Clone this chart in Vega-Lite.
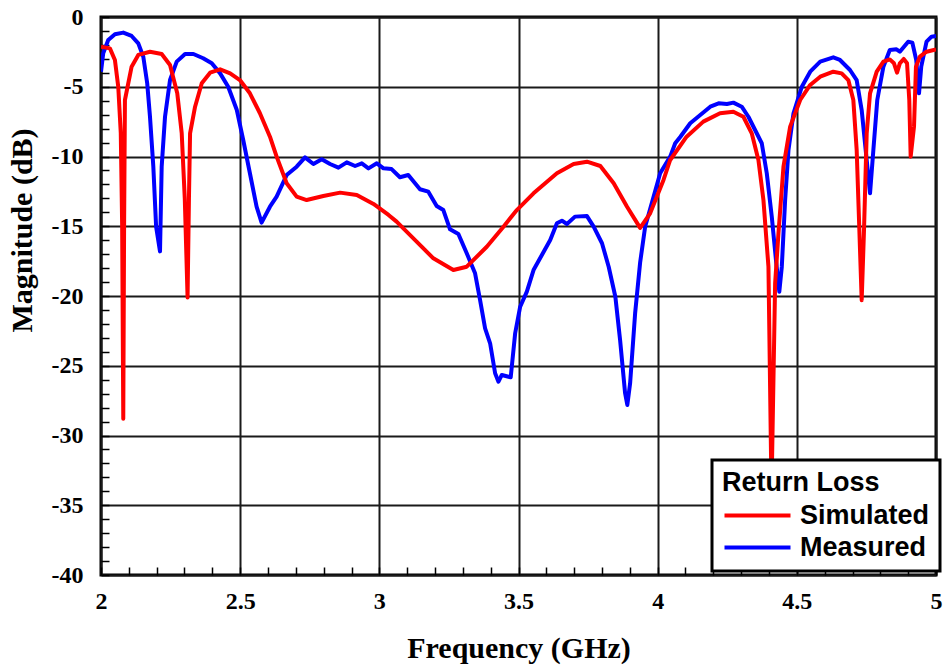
{
  "$schema": "https://vega.github.io/schema/vega-lite/v6.json",
  "width": 835,
  "height": 558,
  "autosize": {"type": "none"},
  "padding": {"left": 101, "top": 17, "right": 9, "bottom": 91},
  "background": "white",
  "config": {
    "view": {"stroke": "black", "strokeWidth": 3},
    "axis": {
      "domain": false,
      "labelFont": "Liberation Serif",
      "labelFontWeight": "bold",
      "labelFontSize": 24,
      "labelColor": "black",
      "titleFont": "Liberation Serif",
      "titleFontWeight": "bold",
      "titleFontSize": 30,
      "titleColor": "black",
      "tickColor": "black",
      "tickWidth": 1.5,
      "tickSize": -8,
      "gridWidth": 2,
      "labelOverlap": false,
      "labelFlush": false
    },
    "legend": {
      "orient": "none",
      "legendX": 611,
      "legendY": 443,
      "fillColor": "white",
      "strokeColor": "black",
      "strokeWidth": 3,
      "cornerRadius": 0,
      "padding": 10,
      "titleFont": "Liberation Sans",
      "titleFontWeight": "bold",
      "titleFontSize": 27,
      "titleColor": "black",
      "titlePadding": 5,
      "labelFont": "Liberation Sans",
      "labelFontWeight": "bold",
      "labelFontSize": 27,
      "labelColor": "black",
      "labelOffset": 51,
      "symbolType": "M-1,0H5",
      "symbolSize": 484,
      "symbolStrokeWidth": 4,
      "rowPadding": 4
    }
  },
  "data": {"values": [
    {"s":"Measured","f":2.000,"m":-3.92},{"s":"Measured","f":2.008,"m":-2.6},{"s":"Measured","f":2.026,"m":-1.65},{"s":"Measured","f":2.050,"m":-1.24},{"s":"Measured","f":2.080,"m":-1.12},{"s":"Measured","f":2.110,"m":-1.36},{"s":"Measured","f":2.134,"m":-1.89},{"s":"Measured","f":2.152,"m":-2.85},{"s":"Measured","f":2.166,"m":-4.75},{"s":"Measured","f":2.176,"m":-7.15},{"s":"Measured","f":2.188,"m":-10.73},{"s":"Measured","f":2.198,"m":-15.03},{"s":"Measured","f":2.212,"m":-16.8},{"s":"Measured","f":2.218,"m":-10.73},{"s":"Measured","f":2.230,"m":-7.15},{"s":"Measured","f":2.248,"m":-4.52},{"s":"Measured","f":2.272,"m":-3.2},{"s":"Measured","f":2.302,"m":-2.65},{"s":"Measured","f":2.332,"m":-2.65},{"s":"Measured","f":2.367,"m":-2.96},{"s":"Measured","f":2.398,"m":-3.32},{"s":"Measured","f":2.428,"m":-4.04},{"s":"Measured","f":2.457,"m":-5.0},{"s":"Measured","f":2.488,"m":-6.67},{"s":"Measured","f":2.511,"m":-8.82},{"s":"Measured","f":2.535,"m":-11.2},{"s":"Measured","f":2.559,"m":-13.6},{"s":"Measured","f":2.577,"m":-14.74},{"s":"Measured","f":2.607,"m":-13.6},{"s":"Measured","f":2.631,"m":-12.88},{"s":"Measured","f":2.667,"m":-11.33},{"s":"Measured","f":2.703,"m":-10.73},{"s":"Measured","f":2.733,"m":-10.06},{"s":"Measured","f":2.763,"m":-10.54},{"s":"Measured","f":2.793,"m":-10.2},{"s":"Measured","f":2.823,"m":-10.54},{"s":"Measured","f":2.853,"m":-10.8},{"s":"Measured","f":2.883,"m":-10.42},{"s":"Measured","f":2.913,"m":-10.68},{"s":"Measured","f":2.937,"m":-10.49},{"s":"Measured","f":2.961,"m":-10.85},{"s":"Measured","f":2.991,"m":-10.49},{"s":"Measured","f":3.015,"m":-10.85},{"s":"Measured","f":3.044,"m":-10.9},{"s":"Measured","f":3.074,"m":-11.49},{"s":"Measured","f":3.104,"m":-11.33},{"s":"Measured","f":3.146,"m":-12.35},{"s":"Measured","f":3.176,"m":-12.52},{"s":"Measured","f":3.206,"m":-13.55},{"s":"Measured","f":3.230,"m":-13.84},{"s":"Measured","f":3.254,"m":-15.22},{"s":"Measured","f":3.284,"m":-15.56},{"s":"Measured","f":3.314,"m":-16.94},{"s":"Measured","f":3.344,"m":-18.37},{"s":"Measured","f":3.362,"m":-20.29},{"s":"Measured","f":3.380,"m":-22.32},{"s":"Measured","f":3.398,"m":-23.39},{"s":"Measured","f":3.416,"m":-25.54},{"s":"Measured","f":3.428,"m":-26.14},{"s":"Measured","f":3.440,"m":-25.66},{"s":"Measured","f":3.472,"m":-25.83},{"s":"Measured","f":3.488,"m":-22.67},{"s":"Measured","f":3.506,"m":-20.77},{"s":"Measured","f":3.530,"m":-19.69},{"s":"Measured","f":3.554,"m":-18.14},{"s":"Measured","f":3.584,"m":-17.06},{"s":"Measured","f":3.614,"m":-15.99},{"s":"Measured","f":3.638,"m":-14.79},{"s":"Measured","f":3.656,"m":-14.6},{"s":"Measured","f":3.674,"m":-14.84},{"s":"Measured","f":3.703,"m":-14.31},{"s":"Measured","f":3.746,"m":-14.27},{"s":"Measured","f":3.770,"m":-15.03},{"s":"Measured","f":3.800,"m":-16.22},{"s":"Measured","f":3.824,"m":-17.9},{"s":"Measured","f":3.848,"m":-20.05},{"s":"Measured","f":3.865,"m":-23.15},{"s":"Measured","f":3.883,"m":-26.97},{"s":"Measured","f":3.891,"m":-27.81},{"s":"Measured","f":3.901,"m":-26.26},{"s":"Measured","f":3.919,"m":-21.24},{"s":"Measured","f":3.937,"m":-17.6},{"s":"Measured","f":3.955,"m":-15.03},{"s":"Measured","f":3.985,"m":-12.9},{"s":"Measured","f":4.009,"m":-11.2},{"s":"Measured","f":4.045,"m":-10.01},{"s":"Measured","f":4.063,"m":-9.05},{"s":"Measured","f":4.081,"m":-8.6},{"s":"Measured","f":4.117,"m":-7.62},{"s":"Measured","f":4.153,"m":-7.03},{"s":"Measured","f":4.189,"m":-6.43},{"s":"Measured","f":4.219,"m":-6.19},{"s":"Measured","f":4.249,"m":-6.24},{"s":"Measured","f":4.272,"m":-6.14},{"s":"Measured","f":4.302,"m":-6.43},{"s":"Measured","f":4.326,"m":-7.15},{"s":"Measured","f":4.350,"m":-8.1},{"s":"Measured","f":4.374,"m":-9.05},{"s":"Measured","f":4.392,"m":-11.2},{"s":"Measured","f":4.410,"m":-14.32},{"s":"Measured","f":4.425,"m":-17.42},{"s":"Measured","f":4.437,"m":-19.69},{"s":"Measured","f":4.446,"m":-17.9},{"s":"Measured","f":4.458,"m":-13.12},{"s":"Measured","f":4.470,"m":-9.53},{"s":"Measured","f":4.488,"m":-6.9},{"s":"Measured","f":4.518,"m":-5.0},{"s":"Measured","f":4.548,"m":-3.92},{"s":"Measured","f":4.584,"m":-3.2},{"s":"Measured","f":4.631,"m":-2.89},{"s":"Measured","f":4.655,"m":-3.08},{"s":"Measured","f":4.691,"m":-3.8},{"s":"Measured","f":4.715,"m":-4.52},{"s":"Measured","f":4.733,"m":-6.67},{"s":"Measured","f":4.751,"m":-10.25},{"s":"Measured","f":4.763,"m":-12.64},{"s":"Measured","f":4.775,"m":-9.53},{"s":"Measured","f":4.789,"m":-5.95},{"s":"Measured","f":4.811,"m":-3.56},{"s":"Measured","f":4.834,"m":-2.37},{"s":"Measured","f":4.858,"m":-2.32},{"s":"Measured","f":4.870,"m":-2.49},{"s":"Measured","f":4.900,"m":-1.77},{"s":"Measured","f":4.915,"m":-1.84},{"s":"Measured","f":4.929,"m":-3.08},{"s":"Measured","f":4.939,"m":-5.47},{"s":"Measured","f":4.947,"m":-3.56},{"s":"Measured","f":4.966,"m":-1.77},{"s":"Measured","f":4.984,"m":-1.41},{"s":"Measured","f":5.000,"m":-1.36},
    {"s":"Simulated","f":2.000,"m":-2.13},{"s":"Simulated","f":2.032,"m":-2.25},{"s":"Simulated","f":2.050,"m":-3.08},{"s":"Simulated","f":2.062,"m":-5.0},{"s":"Simulated","f":2.071,"m":-8.3},{"s":"Simulated","f":2.076,"m":-15},{"s":"Simulated","f":2.080,"m":-28.8},{"s":"Simulated","f":2.083,"m":-15},{"s":"Simulated","f":2.086,"m":-5.95},{"s":"Simulated","f":2.098,"m":-4.75},{"s":"Simulated","f":2.110,"m":-3.56},{"s":"Simulated","f":2.134,"m":-2.72},{"s":"Simulated","f":2.176,"m":-2.49},{"s":"Simulated","f":2.218,"m":-2.65},{"s":"Simulated","f":2.248,"m":-3.44},{"s":"Simulated","f":2.274,"m":-5.47},{"s":"Simulated","f":2.290,"m":-8.34},{"s":"Simulated","f":2.301,"m":-13},{"s":"Simulated","f":2.311,"m":-20.1},{"s":"Simulated","f":2.316,"m":-13},{"s":"Simulated","f":2.320,"m":-8.34},{"s":"Simulated","f":2.338,"m":-6.43},{"s":"Simulated","f":2.362,"m":-4.75},{"s":"Simulated","f":2.392,"m":-3.99},{"s":"Simulated","f":2.428,"m":-3.75},{"s":"Simulated","f":2.464,"m":-4.04},{"s":"Simulated","f":2.499,"m":-4.52},{"s":"Simulated","f":2.535,"m":-5.47},{"s":"Simulated","f":2.571,"m":-6.9},{"s":"Simulated","f":2.607,"m":-8.58},{"s":"Simulated","f":2.631,"m":-10.01},{"s":"Simulated","f":2.667,"m":-11.92},{"s":"Simulated","f":2.703,"m":-12.88},{"s":"Simulated","f":2.739,"m":-13.12},{"s":"Simulated","f":2.799,"m":-12.83},{"s":"Simulated","f":2.859,"m":-12.59},{"s":"Simulated","f":2.919,"m":-12.76},{"s":"Simulated","f":2.979,"m":-13.4},{"s":"Simulated","f":3.033,"m":-14.19},{"s":"Simulated","f":3.062,"m":-14.67},{"s":"Simulated","f":3.134,"m":-16.1},{"s":"Simulated","f":3.194,"m":-17.3},{"s":"Simulated","f":3.266,"m":-18.14},{"s":"Simulated","f":3.314,"m":-17.9},{"s":"Simulated","f":3.386,"m":-16.47},{"s":"Simulated","f":3.446,"m":-15.03},{"s":"Simulated","f":3.494,"m":-13.84},{"s":"Simulated","f":3.554,"m":-12.64},{"s":"Simulated","f":3.638,"m":-11.2},{"s":"Simulated","f":3.698,"m":-10.54},{"s":"Simulated","f":3.746,"m":-10.37},{"s":"Simulated","f":3.794,"m":-10.68},{"s":"Simulated","f":3.842,"m":-11.92},{"s":"Simulated","f":3.890,"m":-13.6},{"s":"Simulated","f":3.937,"m":-15.12},{"s":"Simulated","f":3.973,"m":-14.07},{"s":"Simulated","f":4.021,"m":-11.68},{"s":"Simulated","f":4.045,"m":-10.25},{"s":"Simulated","f":4.104,"m":-8.58},{"s":"Simulated","f":4.164,"m":-7.5},{"s":"Simulated","f":4.224,"m":-6.9},{"s":"Simulated","f":4.272,"m":-6.79},{"s":"Simulated","f":4.308,"m":-7.15},{"s":"Simulated","f":4.338,"m":-8.34},{"s":"Simulated","f":4.362,"m":-10.25},{"s":"Simulated","f":4.380,"m":-13.12},{"s":"Simulated","f":4.398,"m":-17.9},{"s":"Simulated","f":4.409,"m":-34},{"s":"Simulated","f":4.422,"m":-19.1},{"s":"Simulated","f":4.434,"m":-15.5},{"s":"Simulated","f":4.452,"m":-10.73},{"s":"Simulated","f":4.476,"m":-7.86},{"s":"Simulated","f":4.512,"m":-5.95},{"s":"Simulated","f":4.548,"m":-4.87},{"s":"Simulated","f":4.584,"m":-4.28},{"s":"Simulated","f":4.631,"m":-3.92},{"s":"Simulated","f":4.661,"m":-4.04},{"s":"Simulated","f":4.685,"m":-4.52},{"s":"Simulated","f":4.703,"m":-5.95},{"s":"Simulated","f":4.715,"m":-9.53},{"s":"Simulated","f":4.725,"m":-15.5},{"s":"Simulated","f":4.733,"m":-20.3},{"s":"Simulated","f":4.741,"m":-15.5},{"s":"Simulated","f":4.751,"m":-8.34},{"s":"Simulated","f":4.763,"m":-5.47},{"s":"Simulated","f":4.787,"m":-3.92},{"s":"Simulated","f":4.811,"m":-3.2},{"s":"Simulated","f":4.834,"m":-3.04},{"s":"Simulated","f":4.849,"m":-3.32},{"s":"Simulated","f":4.860,"m":-3.99},{"s":"Simulated","f":4.870,"m":-3.32},{"s":"Simulated","f":4.884,"m":-3.01},{"s":"Simulated","f":4.896,"m":-3.32},{"s":"Simulated","f":4.904,"m":-5.95},{"s":"Simulated","f":4.909,"m":-10.01},{"s":"Simulated","f":4.921,"m":-7.86},{"s":"Simulated","f":4.928,"m":-3.56},{"s":"Simulated","f":4.942,"m":-2.84},{"s":"Simulated","f":4.966,"m":-2.49},{"s":"Simulated","f":5.000,"m":-2.32}
  ]},
  "mark": {"type": "line", "strokeWidth": 4, "clip": true, "strokeJoin": "round"},
  "encoding": {
    "x": {
      "field": "f", "type": "quantitative",
      "scale": {"domain": [2, 5], "nice": false, "zero": false},
      "axis": {
        "title": "Frequency (GHz)",
        "values": [2,2.1,2.2,2.3,2.4,2.5,2.6,2.7,2.8,2.9,3,3.1,3.2,3.3,3.4,3.5,3.6,3.7,3.8,3.9,4,4.1,4.2,4.3,4.4,4.5,4.6,4.7,4.8,4.9,5],
        "format": "~g",
        "labelExpr": "abs(datum.value*2-round(datum.value*2))<0.01 ? datum.label : ''",
        "grid": true,
        "gridColor": {"condition": {"test": "abs(datum.value*2-round(datum.value*2))<0.01", "value": "#1a1a1a"}, "value": "transparent"},
        "labelPadding": 22,
        "titlePadding": 20
      }
    },
    "y": {
      "field": "m", "type": "quantitative",
      "scale": {"domain": [-40, 0], "nice": false, "zero": false},
      "axis": {
        "title": "Magnitude (dB)",
        "values": [-40,-39,-38,-37,-36,-35,-34,-33,-32,-31,-30,-29,-28,-27,-26,-25,-24,-23,-22,-21,-20,-19,-18,-17,-16,-15,-14,-13,-12,-11,-10,-9,-8,-7,-6,-5,-4,-3,-2,-1,0],
        "labelExpr": "datum.value % 5 == 0 ? (datum.value < 0 ? '-' + abs(datum.value) : '0') : ''",
        "grid": true,
        "gridColor": {"condition": {"test": "datum.value % 5 == 0", "value": "#1a1a1a"}, "value": "transparent"},
        "labelPadding": 26,
        "titleX": -64,
        "titleY": 213
      }
    },
    "color": {
      "field": "s", "type": "nominal",
      "scale": {"domain": ["Simulated", "Measured"], "range": ["#ff0000", "#0000ff"]},
      "legend": {"title": "Return Loss"}
    }
  }
}
